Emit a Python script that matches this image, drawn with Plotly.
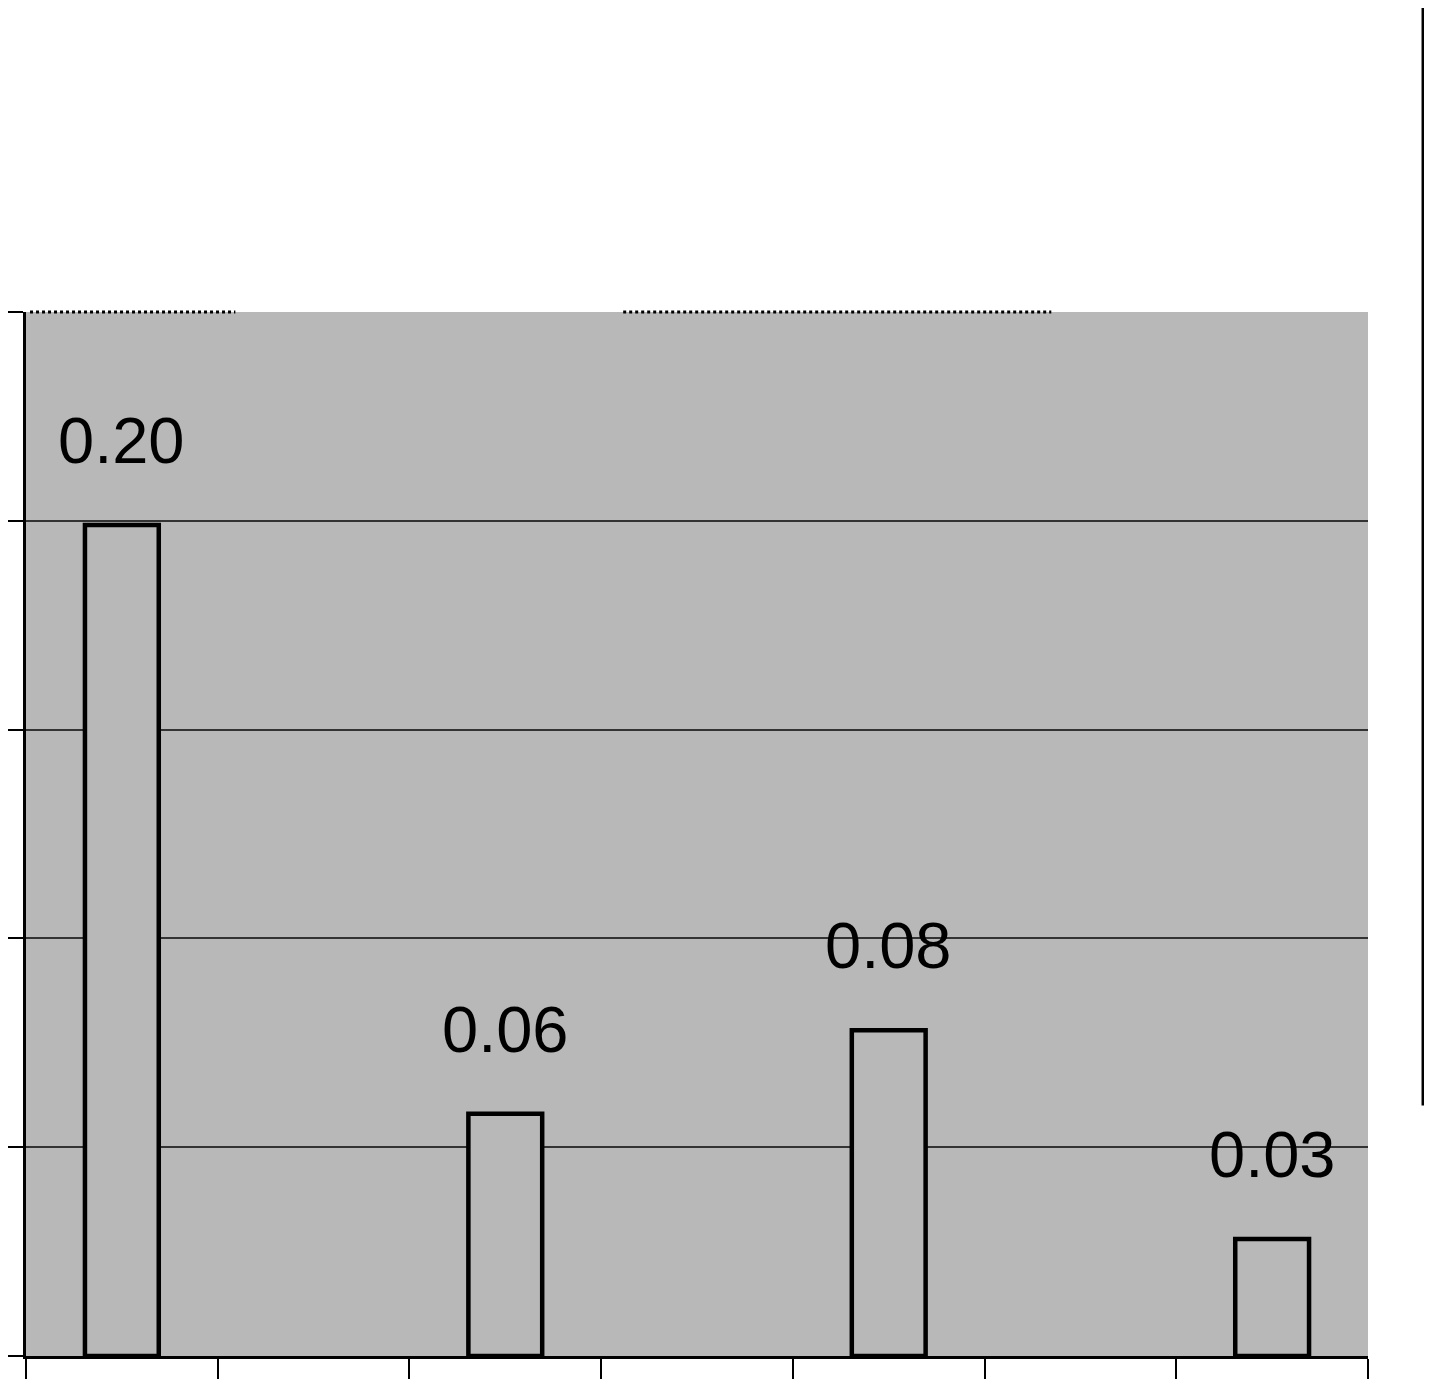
import plotly.graph_objects as go

# seven category slots, bars only in every other one
categories = ["A", "B", "C", "D", "E", "F", "G"]
values = [0.199, None, 0.058, None, 0.078, None, 0.028]
grid_vals = [0, 0.05, 0.10, 0.15, 0.20, 0.25]

bg = "#b8b8b8"

fig = go.Figure()
fig.add_trace(go.Bar(
    x=categories, y=values, width=0.385,
    marker=dict(color=bg, line=dict(color="black", width=4.5)),
    showlegend=False, hoverinfo="skip",
))

# value labels sit well above the bar tops
for c, v in zip(categories, values):
    if v is None:
        continue
    fig.add_annotation(
        x=c, y=v, text=f"{v:.2f}", showarrow=False,
        yanchor="bottom", yshift=46,
        font=dict(family="Liberation Sans, Arial", size=65, color="black"),
    )

# ragged top edge fragments and the stray rule on the right
fig.add_shape(type="line", xref="x domain", yref="y domain", x0=0.003, x1=0.156, y0=1, y1=1,
              line=dict(color="black", width=3, dash="dot"))
fig.add_shape(type="line", xref="x domain", yref="y domain", x0=0.445, x1=0.764, y0=1, y1=1,
              line=dict(color="black", width=3, dash="dot"))
fig.add_shape(type="line", xref="paper", yref="paper", x0=1.041, x1=1.041, y0=0.24, y1=1.3,
              line=dict(color="black", width=3))

fig.update_layout(
    width=1432, height=1384,
    margin=dict(l=18, r=72, t=304, b=36),
    plot_bgcolor=bg, paper_bgcolor="white",
    bargap=0.6,
)
fig.update_xaxes(
    type="category", range=[-0.5, 6.5], showticklabels=False, automargin=False,
    showline=True, linecolor="black", linewidth=3,
    ticks="outside", tickson="boundaries", ticklen=20, tickwidth=2, tickcolor="black",
    showgrid=False,
)
fig.update_yaxes(
    range=[0, 0.25], tickvals=grid_vals, showticklabels=False, automargin=False,
    showline=True, linecolor="black", linewidth=3,
    ticks="outside", ticklen=15, tickwidth=2, tickcolor="black",
    showgrid=True, gridcolor="#333333", gridwidth=1.5, zeroline=False,
)

fig.write_html("out.html")
